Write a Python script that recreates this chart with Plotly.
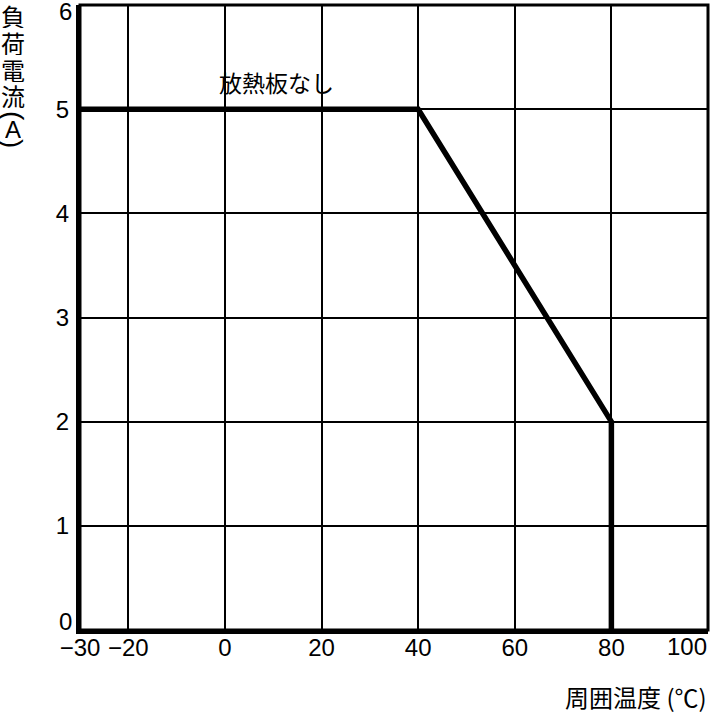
import plotly.graph_objects as go

# Data
temperature = [-30, 40, 80, 80]
load_current = [5, 5, 2, 0]
x_ticks = [-30, -20, 0, 20, 40, 60, 80, 100]
y_ticks = [0, 1, 2, 3, 4, 5, 6]
curve_label = "放熱板なし"
x_title = "周囲温度 (℃)"
y_title_chars = ["負", "荷", "電", "流"]
y_title_unit = "A"

FONT = "Liberation Sans, Arial, Noto Sans CJK JP"
CJK = "Noto Sans CJK JP"

L, R, T, B = 80, 7, 5, 83
W, H = 715, 713
PH = H - T - B


def py(pix):
    return (H - B - pix) / PH


def px(pix):
    return (pix - L) / (W - L - R)


fig = go.Figure()
fig.add_trace(go.Scatter(
    x=temperature, y=load_current, mode="lines",
    line=dict(color="black", width=5.5), cliponaxis=False,
    showlegend=False, hoverinfo="skip"))

# edge labels are drawn separately, shifted inward like the reference
xt_text = [("−" + str(-v)) if v < 0 else str(v) for v in x_ticks]
xt_text[-1] = ""
yt_text = [str(v) for v in y_ticks]
yt_text[0] = ""
yt_text[-1] = ""

fig.update_layout(
    width=W, height=H,
    margin=dict(l=L, r=R, t=T, b=B, autoexpand=False),
    paper_bgcolor="white", plot_bgcolor="white",
    font=dict(family=FONT, color="black", size=24),
    xaxis=dict(range=[-30, 100.0001], tickvals=x_ticks, ticktext=xt_text,
               showgrid=True, gridcolor="black", gridwidth=2,
               showline=True, linecolor="black", linewidth=4,
               ticks="", zeroline=False, tickfont=dict(size=24),
               ticklabeloverflow="allow", automargin=False, ticklabelstandoff=-7),
    yaxis=dict(range=[0, 6.0001], tickvals=y_ticks, ticktext=yt_text,
               showgrid=True, gridcolor="black", gridwidth=2,
               showline=True, linecolor="black", linewidth=4,
               ticks="", zeroline=False, tickfont=dict(size=24),
               ticklabeloverflow="allow", automargin=False, ticklabelstandoff=2),
    shapes=[dict(type="rect", xref="paper", yref="paper", x0=0, x1=1, y0=0, y1=1,
                 line=dict(color="black", width=3), layer="below")],
)

# edge tick labels
fig.add_annotation(x=x_ticks[-1], y=0, yshift=-16, xshift=1, text=str(x_ticks[-1]), showarrow=False,
                   font=dict(family=FONT, size=24), xanchor="right", yanchor="middle")
fig.add_annotation(x=-30, y=y_ticks[-1], xshift=-6, yshift=-6, height=20, text=str(y_ticks[-1]),
                   showarrow=False, font=dict(family=FONT, size=24), xanchor="right", yanchor="middle")
fig.add_annotation(x=-30, y=y_ticks[0], xshift=-6, yshift=9, height=20, text=str(y_ticks[0]),
                   showarrow=False, font=dict(family=FONT, size=24), xanchor="right", yanchor="middle")

fig.add_annotation(x=10.6, y=5.26, text=curve_label, showarrow=False,
                   font=dict(family=CJK, size=23), xanchor="center", yanchor="middle")
fig.add_annotation(xref="paper", yref="paper", x=px(709), y=py(696), text=x_title, showarrow=False,
                   font=dict(family=CJK, size=24), xanchor="right", yanchor="middle")

y_centers = [15, 42, 69, 96]
for ch, yc in zip(y_title_chars, y_centers):
    fig.add_annotation(xref="paper", yref="paper", x=px(13), y=py(yc), text=ch,
                       height=25, showarrow=False, font=dict(family=CJK, size=24),
                       xanchor="center", yanchor="middle")
fig.add_annotation(xref="paper", yref="paper", x=px(13), y=py(129), text=y_title_unit,
                   height=18, showarrow=False, font=dict(family=FONT, size=24),
                   xanchor="center", yanchor="middle")
fig.add_annotation(xref="paper", yref="paper", x=px(13), y=py(116), text="(", textangle=90,
                   showarrow=False, font=dict(family=FONT, size=28),
                   xanchor="center", yanchor="middle")
fig.add_annotation(xref="paper", yref="paper", x=px(13), y=py(143), text=")", textangle=90,
                   showarrow=False, font=dict(family=FONT, size=28),
                   xanchor="center", yanchor="middle")

fig.write_html("out.html", config={"displayModeBar": False},
               post_script="document.body.style.margin='0';")
